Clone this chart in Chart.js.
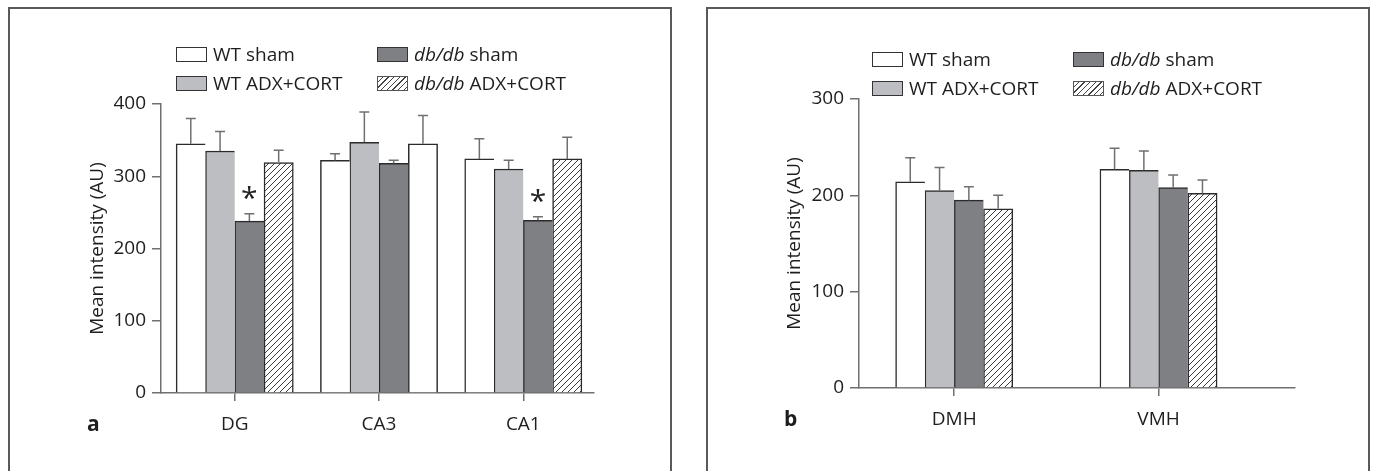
<!DOCTYPE html>
<html>
<head>
<meta charset="utf-8">
<script src="https://cdn.jsdelivr.net/npm/chart.js@4.4.1/dist/chart.umd.min.js"></script>
<style>
  body { margin: 0; background: #fff; width: 1375px; height: 471px; overflow: hidden; position: relative;
         font-family: 'Open Sans', sans-serif; color: #1e1e1e; }
  .box { position: absolute; top: 7px; height: 480px; border: 2px solid #5a5a5a; border-bottom: none; box-sizing: border-box; }
  canvas { position: absolute; top: 0; }
  .leg { position: absolute; display: flex; align-items: center; height: 16px; font-size: 19px; line-height: 16px; white-space: nowrap; }
  .sw { width: 31px; height: 15px; box-sizing: border-box; border: 1.5px solid #333; margin-right: 6px; flex: none; }
  .sw.white { background: #fff; }
  .sw.light { background: #bdbec2; }
  .sw.dark { background: #7f8084; }
  .sw.hatch { border-color: #555; background: repeating-linear-gradient(135deg, #fff 0 3px, #444 3px 4px); }
  .lab { position: absolute; font-weight: bold; font-size: 21px; line-height: 20px; }
</style>
</head>
<body>
<div class="box" style="left:8px;width:664px"></div>
<div class="box" style="left:706px;width:664px"></div>

<canvas id="chartA" width="680" height="471" style="left:0"></canvas>
<canvas id="chartB" width="685" height="471" style="left:690px"></canvas>

<div class="leg" style="left:176px;top:46px"><span class="sw white"></span>WT sham</div>
<div class="leg" style="left:176px;top:75px"><span class="sw light"></span>WT ADX+CORT</div>
<div class="leg" style="left:377px;top:46px"><span class="sw dark"></span><i>db/db</i>&nbsp;sham</div>
<div class="leg" style="left:377px;top:75px"><span class="sw hatch"></span><i>db/db</i>&nbsp;ADX+CORT</div>

<div class="leg" style="left:872px;top:51px"><span class="sw white"></span>WT sham</div>
<div class="leg" style="left:872px;top:80px"><span class="sw light"></span>WT ADX+CORT</div>
<div class="leg" style="left:1073px;top:51px"><span class="sw dark"></span><i>db/db</i>&nbsp;sham</div>
<div class="leg" style="left:1073px;top:80px"><span class="sw hatch"></span><i>db/db</i>&nbsp;ADX+CORT</div>

<div class="lab" style="left:87px;top:413px">a</div>
<div class="lab" style="left:784px;top:408px">b</div>

<script>
// panel a: hippocampus
const hippoRegions = ['DG', 'CA3', 'CA1'];
const hippoWtSham = [345, 322, 324];
const hippoWtShamErr = [35, 9, 28];
const hippoWtAdx = [335, 347, 310];
const hippoWtAdxErr = [27, 42, 12];
const hippoDbSham = [238, 318, 239];
const hippoDbShamErr = [10, 4, 5];
const hippoDbAdx = [319, 345, 324];
const hippoDbAdxErr = [17, 39, 30];
const hippoSignificant = [true, false, true]; // asterisk over db/db sham

// panel b: hypothalamus
const hypoRegions = ['DMH', 'VMH'];
const hypoWtSham = [214, 227];
const hypoWtShamErr = [25, 22];
const hypoWtAdx = [205, 226];
const hypoWtAdxErr = [24, 20];
const hypoDbSham = [195, 208];
const hypoDbShamErr = [14, 13];
const hypoDbAdx = [186, 202];
const hypoDbAdxErr = [14, 14];
const hypoSignificant = [false, false];

const seriesNames = ['WT sham', 'WT ADX+CORT', 'db/db sham', 'db/db ADX+CORT'];

const AXIS = '#707070';
const EDGE = '#2b2b2b';
const FONT = { family: "'Open Sans', sans-serif", size: 19 };

function makeHatch() {
    const c = document.createElement('canvas');
    c.width = 6; c.height = 6;
    const g = c.getContext('2d');
    g.fillStyle = '#fff';
    g.fillRect(0, 0, 6, 6);
    g.strokeStyle = '#3a3a3a';
    g.lineWidth = 1;
    g.beginPath();
    g.moveTo(-1, 7); g.lineTo(7, -1);
    g.moveTo(-4, 4); g.lineTo(4, -4);
    g.moveTo(2, 10); g.lineTo(10, 2);
    g.stroke();
    return g.createPattern(c, 'repeat');
}
const hatch = makeHatch();

// draws upward error bars and significance stars
const errorBarPlugin = {
    id: 'errorBars',
    afterDatasetsDraw(chart) {
        const ctx = chart.ctx;
        const y = chart.scales.y;
        ctx.save();
        chart.data.datasets.forEach((ds, di) => {
            const meta = chart.getDatasetMeta(di);
            meta.data.forEach((bar, i) => {
                const top = y.getPixelForValue(ds.data[i].y + ds.errors[i]);
                ctx.strokeStyle = AXIS;
                ctx.lineWidth = 1.5;
                ctx.beginPath();
                ctx.moveTo(bar.x, bar.y);
                ctx.lineTo(bar.x, top);
                ctx.moveTo(bar.x - 5, top);
                ctx.lineTo(bar.x + 5, top);
                ctx.stroke();
                if (ds.stars && ds.stars[i]) {
                    ctx.fillStyle = '#222';
                    ctx.font = "30px 'Open Sans', sans-serif";
                    ctx.textAlign = 'center';
                    ctx.textBaseline = 'alphabetic';
                    ctx.fillText('*', bar.x, top - 6);
                }
            });
        });
        ctx.restore();
    }
};

function buildPanel(id, regions, series, errors, stars, fills, yMax, xMin, xMax, pad, yWidth) {
    const colors = ['#ffffff', '#bdbec2', '#7f8084', hatch];
    const datasets = series.map((vals, k) => ({
        label: seriesNames[k],
        data: vals.map((v, i) => ({ x: i + 1, y: v })),
        errors: errors[k],
        stars: k === 2 ? stars : null,
        backgroundColor: k === 3 ? fills : colors[k],
        borderColor: EDGE,
        borderWidth: k === 3 ? { top: 1.5, left: 1.5, right: 1.5, bottom: 0 } : { top: 1.5, left: 1.5, right: 0, bottom: 0 },
        borderSkipped: false,
        barThickness: 29.3
    }));

    return new Chart(document.getElementById(id), {
        type: 'bar',
        data: { datasets },
        plugins: [errorBarPlugin],
        options: {
            responsive: false,
            animation: false,
            layout: { padding: pad },
            plugins: { legend: { display: false }, tooltip: { enabled: false } },
            scales: {
                x: {
                    type: 'linear',
                    min: xMin,
                    max: xMax,
                    offset: false,
                    afterBuildTicks: (s) => { s.ticks = regions.map((r, i) => ({ value: i + 1 })); },
                    afterFit: (s) => { s.height = 60; },
                    ticks: {
                        autoSkip: false,
                        padding: 12,
                        color: '#1e1e1e',
                        font: FONT,
                        callback: (v) => regions[v - 1]
                    },
                    grid: { offset: false, drawOnChartArea: false, drawTicks: true, tickLength: 8, color: AXIS, lineWidth: 1.5 },
                    border: { color: AXIS, width: 1.5 }
                },
                y: {
                    min: 0,
                    max: yMax,
                    afterFit: (s) => { s.width = yWidth; },
                    ticks: { stepSize: 100, padding: 6, color: '#1e1e1e', font: FONT },
                    grid: { drawOnChartArea: false, tickLength: 9, color: AXIS, lineWidth: 1.5 },
                    border: { color: AXIS, width: 1.5 },
                    title: { display: true, text: 'Mean intensity (AU)', color: '#1e1e1e', font: FONT, padding: { top: 4, bottom: 4 } }
                }
            }
        }
    });
}

buildPanel('chartA', hippoRegions,
    [hippoWtSham, hippoWtAdx, hippoDbSham, hippoDbAdx],
    [hippoWtShamErr, hippoWtAdxErr, hippoDbShamErr, hippoDbAdxErr],
    hippoSignificant,
    [hatch, '#ffffff', hatch],
    400, 0.489, 3.49,
    { left: 82, right: 86, top: 104, bottom: 18 }, 79);

buildPanel('chartB', hypoRegions,
    [hypoWtSham, hypoWtAdx, hypoDbSham, hypoDbAdx],
    [hypoWtShamErr, hypoWtAdxErr, hypoDbShamErr, hypoDbAdxErr],
    hypoSignificant,
    hatch,
    300, 0.534, 2.668,
    { left: 89, right: 80, top: 99, bottom: 23 }, 80);
</script>
</body>
</html>
